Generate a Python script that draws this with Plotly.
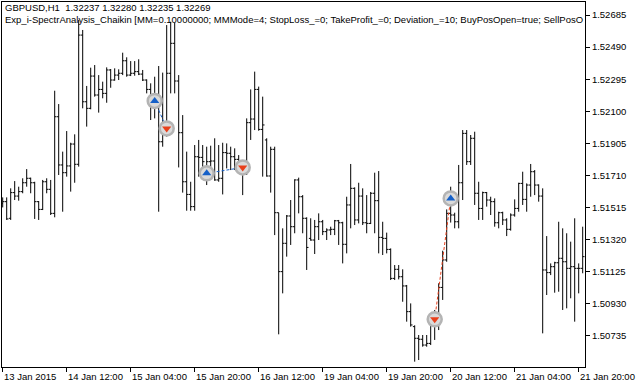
import plotly.graph_objects as go

# ---- data (GBPUSD H1, bars indexed in time order) ----
opens = [1.51541,1.51551,1.51450,1.51606,1.51585,1.51612,1.51666,1.51693,1.51666,1.51551,
         1.51504,1.51672,1.51626,1.51480,1.52067,1.51774,1.51727,1.51768,1.51901,1.51778,
         1.52563,1.52158,1.52118,1.52314,1.52199,1.52233,1.52209,1.52351,1.52290,1.52320,
         1.52331,1.52407,1.52320,1.52331,1.52341,1.52326,1.52290,1.52233,1.52189,1.52158,
         1.51915,1.51996,1.52331,1.52513,1.52284,1.51970,1.51672,1.51595,1.51521,1.51824,
         1.51820,1.51760,1.51794,1.51798,1.51683,1.51693,1.51849,1.51845,1.51824,1.51808,
         1.51774,1.51733,1.52031,1.52053,1.52233,1.51990,1.51926,1.51707,1.51869,1.51484,
         1.51126,1.51298,1.51464,1.51399,1.51683,1.51581,1.51450,1.51328,1.51318,1.51399,
         1.51429,1.51369,1.51379,1.51383,1.51435,1.51423,1.51292,1.51531,1.51632,1.51440,
         1.51585,1.51423,1.51419,1.51602,1.51557,1.51334,1.51328,1.51261,1.51085,1.51140,
         1.51095,1.51039,1.50883,1.50792,1.50721,1.50715,1.50680,1.50690,1.50832,1.50862,
         1.51030,1.51197,1.51480,1.51470,1.51429,1.51666,1.51966,1.51794,1.51936,1.51602,
         1.51510,1.51606,1.51561,1.51551,1.51423,1.51484,1.51440,1.51383,1.51470,1.51510,
         1.51662,1.51565,1.51652,1.51733,1.51652,1.51585,1.51136,1.51120,1.51156,1.51180,
         1.51207,1.51186,1.51146,1.51156,1.51146,1.51146]
highs = [1.51577,1.51577,1.51632,1.51676,1.51642,1.51693,1.51749,1.51697,1.51672,1.51555,
         1.51683,1.51693,1.51683,1.52225,1.52144,1.51855,1.51980,1.51909,1.51960,1.52655,
         1.52594,1.52254,1.52365,1.52381,1.52320,1.52280,1.52367,1.52357,1.52361,1.52355,
         1.52456,1.52428,1.52405,1.52405,1.52416,1.52351,1.52294,1.52270,1.52310,1.52375,
         1.52335,1.52624,1.52644,1.52638,1.52320,1.52077,1.51855,1.51672,1.51895,1.51926,
         1.51895,1.51885,1.51891,1.51936,1.51895,1.51909,1.51905,1.51885,1.51875,1.51834,
         1.51794,1.52057,1.52233,1.52341,1.52250,1.52189,1.51936,1.51885,1.51885,1.51484,
         1.51389,1.51470,1.51561,1.51687,1.51697,1.51591,1.51456,1.51450,1.51440,1.51480,
         1.51440,1.51389,1.51399,1.51440,1.51440,1.51429,1.51581,1.51780,1.51638,1.51666,
         1.51632,1.51591,1.51610,1.51727,1.51737,1.51429,1.51363,1.51267,1.51166,1.51166,
         1.51140,1.51045,1.50933,1.50800,1.50741,1.50741,1.50741,1.50852,1.50893,1.51055,
         1.51253,1.51504,1.51642,1.51484,1.51774,1.51986,1.51986,1.51956,1.51976,1.51672,
         1.51612,1.51610,1.51581,1.51571,1.51490,1.51490,1.51450,1.51480,1.51565,1.51666,
         1.51733,1.51662,1.51780,1.51743,1.51656,1.51632,1.51342,1.51176,1.51186,1.51429,
         1.51389,1.51359,1.51308,1.51450,1.51176,1.51399]
lows = [1.51516,1.51440,1.51440,1.51561,1.51557,1.51602,1.51642,1.51602,1.51446,1.51440,
        1.51500,1.51602,1.51470,1.51456,1.51713,1.51490,1.51703,1.51612,1.51666,1.51764,
        1.52118,1.52007,1.52112,1.52189,1.52092,1.52179,1.52152,1.52243,1.52286,1.52290,
        1.52320,1.52310,1.52314,1.52316,1.52320,1.52284,1.52209,1.52047,1.52057,1.51490,
        1.51885,1.51946,1.52209,1.52209,1.51759,1.51606,1.51496,1.51496,1.51496,1.51703,
        1.51693,1.51652,1.51723,1.51678,1.51672,1.51595,1.51753,1.51743,1.51743,1.51743,
        1.51591,1.51713,1.51926,1.51986,1.51982,1.51703,1.51703,1.51606,1.51348,1.50745,
        1.50994,1.51217,1.51288,1.51359,1.51480,1.51359,1.51136,1.51314,1.51233,1.51318,
        1.51348,1.51318,1.51348,1.51348,1.51288,1.51176,1.51237,1.51389,1.51409,1.51419,
        1.51409,1.51359,1.51415,1.51359,1.51237,1.51227,1.51237,1.51075,1.51075,1.51079,
        1.50943,1.50822,1.50792,1.50579,1.50589,1.50670,1.50670,1.50680,1.50711,1.50771,
        1.50954,1.51186,1.51424,1.51389,1.51389,1.51561,1.51774,1.51774,1.51531,1.51440,
        1.51440,1.51521,1.51470,1.51399,1.51389,1.51409,1.51342,1.51375,1.51460,1.51490,
        1.51531,1.51490,1.51581,1.51591,1.51551,1.50751,1.50984,1.51105,1.50998,1.51004,
        1.50893,1.50903,1.50964,1.50822,1.50994,1.51116]
closes = [1.51551,1.51446,1.51606,1.51585,1.51612,1.51666,1.51693,1.51666,1.51551,1.51504,
          1.51672,1.51626,1.51480,1.52067,1.51774,1.51727,1.51768,1.51901,1.51778,1.52563,
          1.52158,1.52118,1.52314,1.52199,1.52233,1.52209,1.52351,1.52290,1.52320,1.52331,
          1.52407,1.52320,1.52331,1.52341,1.52326,1.52290,1.52233,1.52189,1.52158,1.51915,
          1.51996,1.52331,1.52513,1.52284,1.51970,1.51672,1.51595,1.51521,1.51824,1.51820,
          1.51794,1.51794,1.51798,1.51683,1.51693,1.51849,1.51845,1.51824,1.51808,1.51774,
          1.51733,1.52031,1.52053,1.52233,1.51990,1.52017,1.51707,1.51869,1.51484,1.51126,
          1.51298,1.51464,1.51399,1.51683,1.51581,1.51450,1.51273,1.51318,1.51399,1.51429,
          1.51369,1.51379,1.51383,1.51435,1.51423,1.51292,1.51531,1.51632,1.51440,1.51585,
          1.51423,1.51419,1.51602,1.51557,1.51334,1.51328,1.51261,1.51085,1.51140,1.51095,
          1.51039,1.50883,1.50802,1.50721,1.50715,1.50680,1.50690,1.50832,1.50862,1.51030,
          1.51197,1.51480,1.51470,1.51429,1.51666,1.51966,1.51794,1.51936,1.51602,1.51510,
          1.51606,1.51561,1.51551,1.51423,1.51484,1.51440,1.51383,1.51470,1.51510,1.51662,
          1.51565,1.51652,1.51733,1.51652,1.51585,1.51136,1.51120,1.51156,1.51180,1.51207,
          1.51186,1.51146,1.51156,1.51146,1.51146,1.51217]
bar_index = list(range(len(opens)))

x_tick_index = [0, 16, 32, 48, 64, 80, 96, 112, 128, 144]
x_tick_labels = ["13 Jan 2015", "14 Jan 12:00", "15 Jan 04:00", "15 Jan 20:00", "16 Jan 12:00",
                 "19 Jan 04:00", "19 Jan 20:00", "20 Jan 12:00", "21 Jan 04:00", "21 Jan 20:00"]
y_tick_values = [1.50735, 1.50930, 1.51125, 1.51320, 1.51515, 1.51710,
                 1.51905, 1.52100, 1.52295, 1.52490, 1.52685]

buy_index = [38, 51, 112]
buy_price = [1.52163, 1.51723, 1.51571]
sell_index = [41, 60, 108]
sell_price = [1.51996, 1.51759, 1.50836]
# trade connecting lines: (open index, open price, close index, close price, colour key)
trades = [(38, 1.52163, 41, 1.51996, "buy"),
          (51, 1.51723, 60, 1.51759, "buy"),
          (108, 1.50836, 112, 1.51571, "sell")]

header1 = "GBPUSD,H1  1.32237 1.32280 1.32235 1.32269"
header2 = ("Exp_i-SpectrAnalysis_Chaikin [MM=0.10000000; MMMode=4; StopLoss_=0; "
           "TakeProfit_=0; Deviation_=10; BuyPosOpen=true; SellPosO")

BLUE = "#1560c8"
RED = "#e8401c"
FONT = "Tahoma, Liberation Sans, Arial, sans-serif"

fig = go.Figure()
fig.add_trace(go.Ohlc(x=bar_index, open=opens, high=highs, low=lows, close=closes,
                      increasing=dict(line=dict(color="black", width=1)),
                      decreasing=dict(line=dict(color="black", width=1)),
                      tickwidth=0.45, hoverinfo="skip", showlegend=False))

for i0, p0, i1, p1, kind in trades:
    fig.add_trace(go.Scatter(x=[i0, i1], y=[p0, p1], mode="lines",
                             line=dict(color=BLUE if kind == "buy" else RED, width=1, dash="3px,2px"),
                             hoverinfo="skip", showlegend=False))

for idx, pr, sym, col in [(buy_index, buy_price, "triangle-up", BLUE),
                          (sell_index, sell_price, "triangle-down", RED)]:
    fig.add_trace(go.Scatter(x=idx, y=pr, mode="markers",
                             marker=dict(symbol="circle", size=14, color="#dadada",
                                         line=dict(color="#b4b4b4", width=2.5)),
                             hoverinfo="skip", showlegend=False))
    fig.add_trace(go.Scatter(x=idx, y=pr, mode="markers",
                             marker=dict(symbol=sym, size=8, color=col, line=dict(width=0)),
                             hoverinfo="skip", showlegend=False))

for xi, lab in zip(x_tick_index, x_tick_labels):
    fig.add_annotation(x=xi, y=-0.027, xref="x", yref="paper", text=lab, showarrow=False,
                       xanchor="left", yanchor="middle", xshift=-1,
                       font=dict(family=FONT, size=9.5, color="black"))

fig.add_annotation(x=0, y=0.984, xref="paper", yref="paper", text=header1, showarrow=False,
                   xanchor="left", yanchor="middle", xshift=1,
                   font=dict(family=FONT, size=9.5, color="black"))
fig.add_annotation(x=0, y=0.952, xref="paper", yref="paper", text=header2, showarrow=False,
                   xanchor="left", yanchor="middle", xshift=1,
                   font=dict(family=FONT, size=9.5, color="black"))

fig.update_layout(
    width=637, height=387,
    margin=dict(l=2, r=52, t=2, b=20),
    paper_bgcolor="white", plot_bgcolor="white",
    font=dict(family=FONT, size=9.5, color="black"),
    xaxis=dict(range=[-0.175, 145.575], showgrid=False, zeroline=False,
               showline=True, linecolor="black", linewidth=1, mirror=True,
               ticks="outside", ticklen=4, tickcolor="black", tickwidth=1,
               tickvals=x_tick_index, showticklabels=False,
               rangeslider=dict(visible=False), fixedrange=True),
    yaxis=dict(range=[1.505466, 1.527640], side="right", showgrid=False, zeroline=False,
               showline=True, linecolor="black", linewidth=1, mirror=True,
               ticks="outside", ticklen=4, tickcolor="black", tickwidth=1,
               tickvals=y_tick_values, tickformat=".5f",
               tickfont=dict(family=FONT, size=9.5, color="black"), fixedrange=True),
)

fig.write_html("out.html")
